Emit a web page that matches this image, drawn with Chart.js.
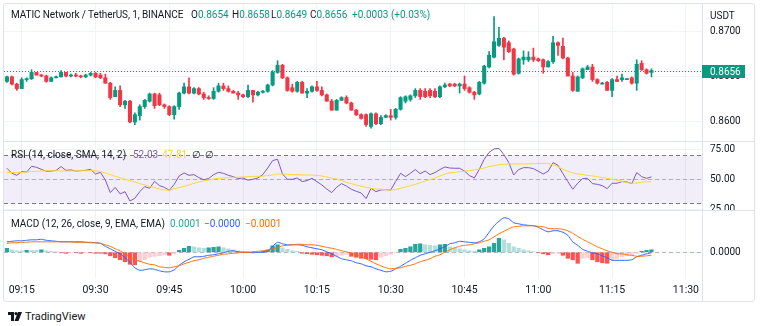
<!DOCTYPE html>
<html>
<head>
<meta charset="utf-8">
<script src="https://cdn.jsdelivr.net/npm/chart.js@4.4.1/dist/chart.umd.min.js"></script>
<style>
  body { margin: 0; background: #fff; width: 760px; height: 326px; position: relative; overflow: hidden;
         font-family: Roboto, "Liberation Sans", sans-serif; color: #131722; }
  .frame { position: absolute; left: 3px; top: 3px; width: 752px; height: 299px; border: 1px solid #e0e3eb;
           box-sizing: border-box; border-radius: 3px; }
  .pane { position: absolute; left: 4px; }
  .pane canvas { display: block; }
  .sep { position: absolute; left: 4px; width: 750px; height: 1px; background: #e0e3eb; }
  .t { position: absolute; font-size: 10px; line-height: 13px; white-space: nowrap; }
</style>
</head>
<body>
<div class="frame"></div>
<div class="pane" style="top:4px"><canvas id="price" width="750" height="137"></canvas></div>
<div class="sep" style="top:141px"></div>
<div class="pane" style="top:142px"><canvas id="rsi" width="750" height="68"></canvas></div>
<div class="sep" style="top:210px"></div>
<div class="pane" style="top:211px"><canvas id="macd" width="750" height="90"></canvas></div>
<div style="position:absolute;left:702px;top:278px;width:1px;height:23px;background:#e0e3eb"></div>

<div class="t" style="left:11px;top:8px;letter-spacing:-0.1px">MATIC Network / TetherUS, 1, BINANCE</div>
<div class="t" style="left:191px;top:8px">O<span style="color:#089981">0.8654</span></div>
<div class="t" style="left:232px;top:8px">H<span style="color:#089981">0.8658</span></div>
<div class="t" style="left:271px;top:8px">L<span style="color:#089981">0.8649</span></div>
<div class="t" style="left:310px;top:8px">C<span style="color:#089981">0.8656</span></div>
<div class="t" style="left:352px;top:8px;color:#089981">+0.0003 (+0.03%)</div>
<div class="t" style="left:710px;top:9px">USDT</div>

<div class="t" style="left:11px;top:148px">RSI (14, close, SMA, 14, 2)</div>
<div class="t" style="left:133px;top:148px;color:#7e57c2">52.03</div>
<div class="t" style="left:162px;top:148px;color:#f5d63d">47.81</div>
<div class="t" style="left:192px;top:148px">∅</div>
<div class="t" style="left:205px;top:148px">∅</div>

<div class="t" style="left:11px;top:217px">MACD (12, 26, close, 9, EMA, EMA)</div>
<div class="t" style="left:170px;top:217px;color:#26a69a">0.0001</div>
<div class="t" style="left:204px;top:217px;color:#2962ff">−0.0000</div>
<div class="t" style="left:245px;top:217px;color:#ff6d00">−0.0001</div>

<svg style="position:absolute;left:8px;top:312px" width="15" height="9" viewBox="0 0 15 9">
  <path d="M0 0h6v9h-3v-6h-3z M10 0h4l-3.5 9h-4z" fill="#131722"/>
  <circle cx="8" cy="1.6" r="1.6" fill="#131722"/>
</svg>
<div class="t" style="left:25px;top:310px;font-size:11px">TradingView</div>

<script>
// 1-minute candles, first one opens at startTime
const startTime = '09:12';
const timeTicks = ['09:15', '09:30', '09:45', '10:00', '10:15', '10:30', '10:45', '11:00', '11:15', '11:30'];

const openPrice = [
  0.8644, 0.8649, 0.8641, 0.8636, 0.8646, 0.8647, 0.8654, 0.8651, 0.8650, 0.8644,
  0.8648, 0.8649, 0.8654, 0.8650, 0.8651, 0.8650, 0.8649, 0.8651, 0.8653, 0.8651,
  0.8648, 0.8642, 0.8627, 0.8634, 0.8618, 0.8622, 0.8599, 0.8606, 0.8616, 0.8622,
  0.8630, 0.8629, 0.8618, 0.8616, 0.8607, 0.8616, 0.8631, 0.8638, 0.8631, 0.8636,
  0.8630, 0.8626, 0.8625, 0.8633, 0.8639, 0.8636, 0.8633, 0.8631, 0.8629, 0.8627,
  0.8634, 0.8629, 0.8632, 0.8633, 0.8640, 0.8654, 0.8662, 0.8648, 0.8637, 0.8633,
  0.8643, 0.8631, 0.8633, 0.8638, 0.8634, 0.8629, 0.8622, 0.8612, 0.8623, 0.8626,
  0.8620, 0.8612, 0.8607, 0.8607, 0.8594, 0.8608, 0.8597, 0.8604, 0.8606, 0.8604,
  0.8613, 0.8622, 0.8624, 0.8628, 0.8634, 0.8633, 0.8634, 0.8633, 0.8627, 0.8638,
  0.8641, 0.8641, 0.8639, 0.8641, 0.8637, 0.8632, 0.8630, 0.8642, 0.8660, 0.8671,
  0.8684, 0.8692, 0.8687, 0.8680, 0.8653, 0.8668, 0.8668, 0.8671, 0.8669, 0.8668,
  0.8660, 0.8666, 0.8687, 0.8683, 0.8670, 0.8650, 0.8633, 0.8648, 0.8657, 0.8660,
  0.8646, 0.8641, 0.8643, 0.8634, 0.8646, 0.8646, 0.8646, 0.8648, 0.8642, 0.8664,
  0.8657, 0.8654
];
const highPrice = [
  0.8650, 0.8650, 0.8642, 0.8648, 0.8648, 0.8657, 0.8654, 0.8652, 0.8651, 0.8649,
  0.8650, 0.8656, 0.8654, 0.8652, 0.8653, 0.8651, 0.8652, 0.8654, 0.8654, 0.8653,
  0.8652, 0.8643, 0.8638, 0.8639, 0.8623, 0.8623, 0.8609, 0.8618, 0.8624, 0.8631,
  0.8631, 0.8631, 0.8619, 0.8617, 0.8617, 0.8632, 0.8642, 0.8648, 0.8637, 0.8637,
  0.8632, 0.8628, 0.8637, 0.8642, 0.8642, 0.8639, 0.8634, 0.8633, 0.8630, 0.8640,
  0.8634, 0.8633, 0.8634, 0.8641, 0.8656, 0.8667, 0.8663, 0.8649, 0.8641, 0.8644,
  0.8644, 0.8636, 0.8639, 0.8644, 0.8638, 0.8630, 0.8624, 0.8624, 0.8627, 0.8628,
  0.8621, 0.8613, 0.8608, 0.8608, 0.8609, 0.8609, 0.8606, 0.8607, 0.8613, 0.8614,
  0.8627, 0.8628, 0.8629, 0.8636, 0.8636, 0.8636, 0.8636, 0.8636, 0.8639, 0.8642,
  0.8642, 0.8642, 0.8642, 0.8650, 0.8638, 0.8633, 0.8644, 0.8662, 0.8677, 0.8716,
  0.8704, 0.8693, 0.8689, 0.8681, 0.8670, 0.8678, 0.8677, 0.8681, 0.8670, 0.8669,
  0.8667, 0.8694, 0.8688, 0.8692, 0.8671, 0.8654, 0.8650, 0.8659, 0.8662, 0.8663,
  0.8647, 0.8643, 0.8644, 0.8647, 0.8650, 0.8652, 0.8647, 0.8649, 0.8668, 0.8667,
  0.8658, 0.8658
];
const lowPrice = [
  0.8643, 0.8640, 0.8634, 0.8636, 0.8644, 0.8646, 0.8651, 0.8649, 0.8643, 0.8644,
  0.8648, 0.8649, 0.8649, 0.8649, 0.8649, 0.8648, 0.8648, 0.8650, 0.8648, 0.8647,
  0.8642, 0.8624, 0.8627, 0.8616, 0.8614, 0.8598, 0.8596, 0.8601, 0.8614, 0.8621,
  0.8614, 0.8617, 0.8614, 0.8606, 0.8602, 0.8613, 0.8630, 0.8630, 0.8630, 0.8629,
  0.8624, 0.8624, 0.8624, 0.8632, 0.8634, 0.8632, 0.8631, 0.8624, 0.8626, 0.8626,
  0.8621, 0.8628, 0.8631, 0.8632, 0.8639, 0.8653, 0.8647, 0.8633, 0.8632, 0.8632,
  0.8631, 0.8626, 0.8632, 0.8633, 0.8628, 0.8622, 0.8612, 0.8612, 0.8623, 0.8619,
  0.8612, 0.8606, 0.8602, 0.8594, 0.8592, 0.8596, 0.8596, 0.8604, 0.8601, 0.8602,
  0.8612, 0.8620, 0.8622, 0.8626, 0.8624, 0.8626, 0.8626, 0.8626, 0.8626, 0.8637,
  0.8638, 0.8638, 0.8631, 0.8634, 0.8631, 0.8624, 0.8629, 0.8641, 0.8659, 0.8670,
  0.8683, 0.8668, 0.8676, 0.8651, 0.8652, 0.8663, 0.8666, 0.8666, 0.8666, 0.8653,
  0.8660, 0.8664, 0.8673, 0.8669, 0.8650, 0.8633, 0.8633, 0.8647, 0.8657, 0.8644,
  0.8641, 0.8641, 0.8634, 0.8627, 0.8644, 0.8644, 0.8646, 0.8641, 0.8634, 0.8656,
  0.8652, 0.8649
];
const closePrice = [
  0.8649, 0.8641, 0.8636, 0.8646, 0.8647, 0.8654, 0.8651, 0.8650, 0.8644, 0.8648,
  0.8649, 0.8654, 0.8650, 0.8651, 0.8650, 0.8649, 0.8651, 0.8653, 0.8649, 0.8648,
  0.8642, 0.8626, 0.8634, 0.8618, 0.8622, 0.8599, 0.8607, 0.8616, 0.8623, 0.8630,
  0.8617, 0.8618, 0.8616, 0.8607, 0.8616, 0.8631, 0.8638, 0.8631, 0.8636, 0.8630,
  0.8626, 0.8625, 0.8633, 0.8639, 0.8636, 0.8633, 0.8631, 0.8629, 0.8627, 0.8634,
  0.8629, 0.8632, 0.8633, 0.8640, 0.8654, 0.8662, 0.8648, 0.8634, 0.8633, 0.8643,
  0.8631, 0.8633, 0.8638, 0.8634, 0.8629, 0.8622, 0.8612, 0.8623, 0.8626, 0.8620,
  0.8612, 0.8607, 0.8603, 0.8596, 0.8608, 0.8597, 0.8604, 0.8606, 0.8604, 0.8613,
  0.8626, 0.8627, 0.8628, 0.8634, 0.8627, 0.8627, 0.8628, 0.8627, 0.8638, 0.8640,
  0.8639, 0.8639, 0.8641, 0.8636, 0.8632, 0.8629, 0.8643, 0.8661, 0.8673, 0.8688,
  0.8692, 0.8682, 0.8677, 0.8652, 0.8669, 0.8671, 0.8671, 0.8668, 0.8667, 0.8660,
  0.8666, 0.8687, 0.8684, 0.8670, 0.8650, 0.8634, 0.8649, 0.8658, 0.8660, 0.8646,
  0.8642, 0.8642, 0.8634, 0.8646, 0.8644, 0.8648, 0.8647, 0.8642, 0.8663, 0.8657,
  0.8653, 0.8656
];

const rsiValues = [
  59.2, 55.0, 53.3, 56.4, 56.1, 60.8, 60.0, 58.3, 56.7, 56.9,
  57.5, 60.6, 57.5, 57.8, 56.9, 57.2, 57.5, 58.3, 54.4, 55.8,
  49.4, 38.9, 43.3, 37.8, 39.7, 31.9, 34.2, 39.7, 43.9, 42.5,
  48.3, 44.7, 43.3, 40.8, 45.8, 52.8, 55.3, 53.3, 53.9, 51.4,
  49.7, 50.6, 53.9, 55.8, 55.0, 53.3, 52.2, 50.6, 51.1, 49.2,
  50.0, 51.1, 53.9, 59.4, 65.6, 66.7, 54.4, 50.0, 50.0, 51.1,
  48.1, 48.9, 50.8, 48.1, 45.3, 41.9, 38.9, 43.3, 46.4, 44.4,
  41.7, 40.0, 38.6, 33.9, 42.5, 39.7, 41.1, 41.4, 41.1, 48.1,
  55.0, 52.2, 55.0, 58.1, 54.7, 56.9, 53.9, 55.6, 58.1, 60.3,
  59.4, 59.2, 59.2, 56.9, 53.1, 51.1, 58.3, 66.7, 72.5, 75.3,
  75.8, 70.6, 63.9, 53.6, 58.1, 59.7, 59.7, 58.9, 56.7, 54.4,
  56.7, 63.9, 61.7, 54.7, 48.1, 41.7, 46.7, 50.6, 50.8, 46.4,
  45.8, 44.7, 42.2, 46.7, 46.7, 48.1, 47.8, 46.4, 55.6, 52.2,
  50.8, 52.0
];
const rsiMa = [
  55.6, 55.7, 55.8, 55.8, 56.1, 56.4, 56.7, 56.9, 57.2, 57.2,
  57.1, 56.9, 56.9, 56.9, 57.1, 57.2, 57.2, 57.2, 57.1, 56.4,
  55.3, 53.9, 52.5, 51.4, 50.0, 48.9, 47.8, 46.4, 45.3, 43.9,
  43.1, 41.9, 41.1, 40.8, 42.2, 43.1, 44.2, 45.3, 46.7, 47.8,
  48.6, 49.4, 50.3, 50.8, 51.1, 51.4, 51.7, 51.8, 51.9, 52.2,
  52.4, 52.5, 52.6, 53.1, 53.6, 54.4, 54.4, 54.2, 53.9, 53.9,
  53.6, 53.6, 53.5, 53.3, 52.8, 51.9, 51.1, 50.3, 48.9, 47.5,
  46.4, 45.3, 44.2, 43.3, 42.5, 41.9, 41.7, 41.4, 41.1, 41.4,
  42.5, 43.6, 44.7, 45.8, 47.2, 48.6, 49.7, 51.1, 52.8, 54.4,
  55.3, 55.8, 56.4, 56.8, 57.2, 57.8, 58.6, 59.4, 60.6, 61.4,
  62.2, 62.5, 62.8, 62.8, 62.8, 62.8, 62.8, 63.1, 63.2, 63.3,
  63.3, 62.2, 60.6, 58.3, 56.7, 55.3, 54.4, 53.9, 53.3, 52.8,
  52.2, 51.4, 50.8, 50.0, 49.2, 48.3, 47.2, 46.7, 46.9, 47.5,
  48.1, 47.8
];
const rsiLevels = [70, 50, 30];

// MACD values in units of 0.00001 USDT
const macdLine = [
  21, 22, 23, 23, 24, 25, 25, 26, 24, 23,
  22, 21, 21, 21, 21, 21, 20, 20, 19, 18,
  12, 7, 2, -3, -11, -20, -31, -36, -35, -33,
  -34, -37, -39, -39, -35, -26, -19, -14, -9, -9,
  -8, -6, -5, -3, -1, 2, 3, 1, 0, 0,
  -1, 0, 0, 3, 12, 20, 17, 15, 15, 15,
  14, 11, 9, 7, 5, 1, -3, -8, -13, -15,
  -17, -21, -23, -27, -29, -33, -36, -39, -38, -33,
  -28, -22, -16, -11, -6, -3, 0, 3, 7, 11,
  17, 19, 22, 21, 20, 19, 21, 27, 40, 53,
  62, 69, 67, 59, 57, 55, 54, 53, 50, 45,
  41, 43, 43, 40, 34, 21, 14, 6, 2, -1,
  -3, -7, -11, -16, -16, -16, -16, -15, -9, -6,
  -3, -1
];
const signalLine = [
  18, 19, 19, 20, 20, 21, 21, 21, 21, 21,
  21, 21, 21, 21, 20, 20, 20, 19, 19, 18,
  15, 12, 7, 3, -3, -9, -14, -18, -21, -24,
  -25, -29, -30, -31, -29, -27, -23, -20, -17, -15,
  -12, -10, -8, -6, -4, -3, -2, -1, 0, 0,
  1, 2, 3, 4, 7, 9, 13, 14, 15, 16,
  16, 15, 15, 14, 12, 10, 8, 6, 3, 1,
  -2, -5, -9, -13, -18, -23, -27, -31, -33, -32,
  -31, -28, -26, -23, -19, -16, -13, -8, -5, 0,
  5, 9, 12, 14, 15, 17, 19, 22, 25, 31,
  37, 42, 47, 51, 52, 53, 53, 53, 52, 51,
  48, 47, 47, 46, 43, 38, 32, 26, 21, 16,
  11, 7, 3, 0, -3, -3, -5, -6, -8, -8,
  -7, -6
];
const macdHist = [
  8, 5, 3, 3, 4, 4, 4, 5, 3, 2,
  1, -1, -2, -1, -1, -2, -1, -1, -2, -2,
  -3, -7, -11, -15, -19, -24, -25, -19, -15, -10,
  -8, -7, -5, -6, -3, 4, 8, 12, 11, 9,
  8, 9, 10, 11, 9, 7, 5, 3, 2, 1,
  1, 0, 2, 5, 13, 15, 9, 6, 3, 2,
  -2, -3, -4, -5, -6, -7, -9, -8, -6, -4,
  -8, -10, -12, -13, -14, -15, -10, -7, -4, -1,
  6, 8, 11, 16, 17, 15, 14, 13, 15, 16,
  11, 9, 7, 5, 3, 2, 5, 8, 11, 18,
  28, 25, 18, 11, 8, 5, 3, 1, -1, -3,
  -5, -3, -2, -6, -12, -15, -22, -12, -11, -15,
  -19, -21, -22, -15, -12, -9, -7, -5, -2, 2,
  4, 5
];

const UP = '#089981';
const DOWN = '#f23645';

Chart.defaults.font.family = 'Roboto, "Liberation Sans", sans-serif';
Chart.defaults.font.size = 10;
Chart.defaults.color = '#131722';

const toMinutes = t => { const [h, m] = t.split(':').map(Number); return (h - 9) * 60 + m; };
const fmtTime = v => String(9 + Math.floor(v / 60)).padStart(2, '0') + ':' + String(v % 60).padStart(2, '0');
const x0 = toMinutes(startTime);
const xs = closePrice.map((_, i) => x0 + i);
const pts = arr => arr.map((v, i) => ({ x: xs[i], y: v }));

function xAxis(showLabels) {
  return {
    type: 'linear', min: 11.4, max: 153.27, bounds: 'data', offset: false,
    afterBuildTicks: s => { s.ticks = timeTicks.map(t => ({ value: toMinutes(t) })); },
    afterFit: s => { s.height = showLabels ? 23 : 0; s.paddingLeft = 0; s.paddingRight = 0; },
    grid: { color: '#f0f3fa', drawTicks: false, offset: false },
    border: { display: false },
    ticks: { display: showLabels, autoSkip: false, maxRotation: 0, padding: 6, font: { size: 10.5 }, callback: v => fmtTime(v) }
  };
}
function yAxis(min, max, ticks, fmt) {
  return {
    position: 'right', min, max, bounds: 'data',
    afterBuildTicks: s => { s.ticks = ticks.map(v => ({ value: v })); },
    afterFit: s => { s.width = 52; s.paddingTop = 0; s.paddingBottom = 0; },
    grid: { color: '#f0f3fa', drawTicks: false },
    border: { color: '#e0e3eb' },
    ticks: { padding: 8, autoSkip: false, callback: fmt }
  };
}
const baseOptions = {
  responsive: false, animation: false, devicePixelRatio: 1,
  layout: { padding: 0 },
  plugins: { legend: { display: false }, tooltip: { enabled: false } },
  events: []
};

// dotted last-price line and the price tag on the axis
const lastPrice = {
  id: 'lastPrice',
  afterDatasetsDraw(chart) {
    const { ctx, chartArea: a, scales: { y } } = chart;
    const py = Math.round(y.getPixelForValue(closePrice[closePrice.length - 1])) + 0.5;
    ctx.save();
    ctx.strokeStyle = UP; ctx.lineWidth = 1; ctx.setLineDash([1, 2]);
    ctx.beginPath(); ctx.moveTo(a.left, py); ctx.lineTo(a.right, py); ctx.stroke();
    ctx.restore();
  },
  afterDraw(chart) {
    const { ctx, chartArea: a, scales: { y } } = chart;
    const last = closePrice[closePrice.length - 1];
    const py = Math.round(y.getPixelForValue(last));
    ctx.save();
    ctx.fillStyle = UP;
    ctx.fillRect(a.right, py - 6, 43, 13);
    ctx.fillStyle = '#fff';
    ctx.font = '10px Roboto, "Liberation Sans", sans-serif';
    ctx.textBaseline = 'middle';
    ctx.fillText(last.toFixed(4), a.right + 8, py + 1);
    ctx.restore();
  }
};

new Chart(document.getElementById('price'), {
  type: 'bar',
  data: {
    datasets: [
      { data: xs.map((x, i) => ({ x, y: [lowPrice[i], highPrice[i]] })),
        backgroundColor: closePrice.map((c, i) => c >= openPrice[i] ? UP : DOWN),
        barThickness: 1, grouped: false, order: 2 },
      { data: xs.map((x, i) => ({ x, y: [openPrice[i], closePrice[i]] })),
        backgroundColor: closePrice.map((c, i) => c >= openPrice[i] ? UP : DOWN),
        barThickness: 3.4, grouped: false, minBarLength: 1, order: 1 }
    ]
  },
  options: {
    ...baseOptions,
    scales: {
      x: xAxis(false),
      y: yAxis(0.857778, 0.873, [0.86, 0.865, 0.87], v => v.toFixed(4))
    }
  },
  plugins: [lastPrice]
});

// RSI background band and level lines
const rsiBand = {
  id: 'rsiBand',
  beforeDatasetsDraw(chart) {
    const { ctx, chartArea: a, scales: { y } } = chart;
    const [hi, mid, lo] = rsiLevels.map(v => Math.round(y.getPixelForValue(v)) + 0.5);
    ctx.save();
    ctx.fillStyle = 'rgba(126, 87, 194, 0.1)';
    ctx.fillRect(a.left, hi, a.right - a.left, lo - hi);
    ctx.lineWidth = 1;
    ctx.setLineDash([4, 3]);
    [[hi, '#787b86'], [mid, 'rgba(120,123,134,0.5)'], [lo, '#787b86']].forEach(([py, c]) => {
      ctx.strokeStyle = c;
      ctx.beginPath(); ctx.moveTo(a.left, py); ctx.lineTo(a.right, py); ctx.stroke();
    });
    ctx.restore();
  }
};

new Chart(document.getElementById('rsi'), {
  type: 'line',
  data: {
    datasets: [
      { data: pts(rsiValues), borderColor: '#7e57c2', borderWidth: 1, pointRadius: 0, tension: 0, order: 2 },
      { data: pts(rsiMa), borderColor: '#fdd835', borderWidth: 1, pointRadius: 0, tension: 0, order: 1 }
    ]
  },
  options: {
    ...baseOptions,
    scales: {
      x: xAxis(false),
      y: yAxis(24.42, 81.08, [25, 50, 75], v => v.toFixed(2))
    }
  },
  plugins: [rsiBand]
});

const zeroLine = {
  id: 'zeroLine',
  beforeDatasetsDraw(chart) {
    const { ctx, chartArea: a, scales: { y } } = chart;
    const py = Math.round(y.getPixelForValue(0)) + 0.5;
    ctx.save();
    ctx.strokeStyle = 'rgba(120,123,134,0.5)'; ctx.lineWidth = 1; ctx.setLineDash([4, 3]);
    ctx.beginPath(); ctx.moveTo(a.left, py); ctx.lineTo(a.right, py); ctx.stroke();
    ctx.restore();
  }
};

const histColors = macdHist.map((v, i) => {
  const prev = i > 0 ? macdHist[i - 1] : v - 1;
  if (v >= 0) return prev < v ? '#26a69a' : '#b2dfdb';
  return prev < v ? '#ffcdd2' : '#ff5252';
});

new Chart(document.getElementById('macd'), {
  type: 'bar',
  data: {
    datasets: [
      { type: 'bar', data: pts(macdHist), backgroundColor: histColors, barThickness: 3.6, grouped: false, order: 3 },
      { type: 'line', data: pts(macdLine), borderColor: '#2962ff', borderWidth: 1, pointRadius: 0, tension: 0.2, order: 2 },
      { type: 'line', data: pts(signalLine), borderColor: '#ff6d00', borderWidth: 1, pointRadius: 0, tension: 0.2, order: 1 }
    ]
  },
  options: {
    ...baseOptions,
    scales: {
      x: xAxis(true),
      y: yAxis(-51.4, 82.6, [0], v => (v / 100000).toFixed(4))
    }
  },
  plugins: [zeroLine]
});
</script>
</body>
</html>
